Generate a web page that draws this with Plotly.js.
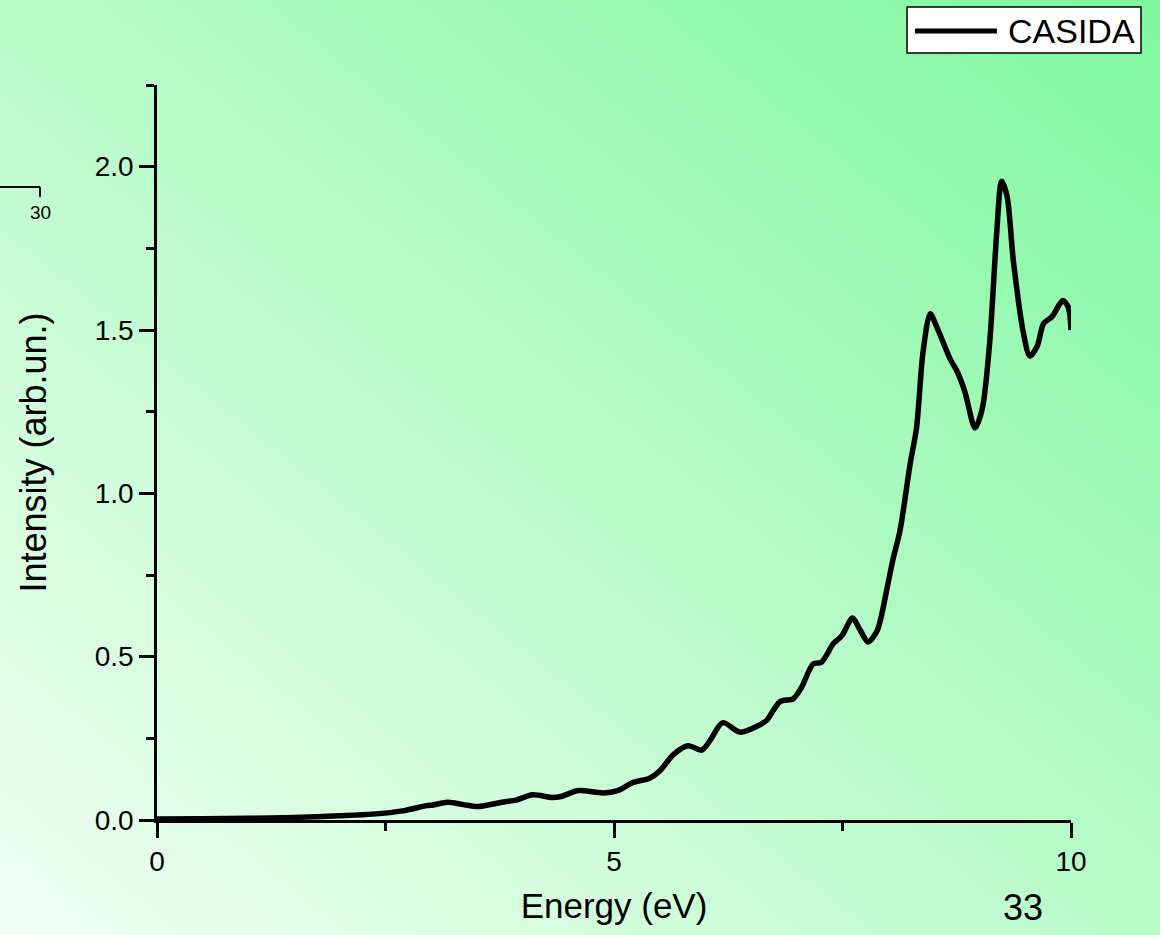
<!DOCTYPE html>
<html>
<head>
<meta charset="utf-8">
<script src="https://cdn.plot.ly/plotly-3.0.1.min.js"></script>
<style>
html, body { margin: 0; padding: 0; }
#chart { width: 1160px; height: 935px; background: linear-gradient(to top right, #f2fff4, #7ef79e); }
</style>
</head>
<body>
<div id="chart"></div>
<script>
// Data
const energy = [0, 0.5, 1.0, 1.5, 2.0, 2.36, 2.69, 2.95, 3.02, 3.18, 3.35, 3.51, 3.79, 3.93, 4.11, 4.32, 4.42, 4.61, 4.88, 5.04, 5.21, 5.39, 5.50, 5.65, 5.81, 5.96, 6.05, 6.19, 6.38, 6.60, 6.67, 6.82, 6.96, 7.05, 7.18, 7.27, 7.40, 7.49, 7.61, 7.69, 7.78, 7.88, 7.99, 8.05, 8.13, 8.24, 8.31, 8.38, 8.46, 8.53, 8.68, 8.76, 8.84, 8.95, 9.03, 9.11, 9.19, 9.24, 9.30, 9.37, 9.48, 9.55, 9.63, 9.70, 9.79, 9.91, 9.97, 10.0];
const intensity = [0.003, 0.004, 0.005, 0.008, 0.013, 0.018, 0.028, 0.044, 0.046, 0.054, 0.047, 0.041, 0.055, 0.061, 0.077, 0.069, 0.072, 0.090, 0.083, 0.090, 0.115, 0.128, 0.150, 0.200, 0.227, 0.214, 0.243, 0.298, 0.269, 0.292, 0.305, 0.363, 0.371, 0.405, 0.478, 0.483, 0.540, 0.563, 0.618, 0.583, 0.545, 0.580, 0.713, 0.795, 0.887, 1.09, 1.20, 1.43, 1.55, 1.51, 1.41, 1.37, 1.31, 1.20, 1.26, 1.46, 1.81, 1.955, 1.91, 1.71, 1.49, 1.42, 1.45, 1.52, 1.54, 1.59, 1.57, 1.50];
const seriesName = "CASIDA";
const xTickVals = [0, 5, 10];
const xTickText = ["0", "5", "10"];
const yTickVals = [0, 0.5, 1.0, 1.5, 2.0];
const yTickText = ["0.0", "0.5", "1.0", "1.5", "2.0"];

const FONT = "Liberation Sans, Arial, sans-serif";

const trace = {
  x: energy,
  y: intensity,
  type: "scatter",
  mode: "lines",
  name: seriesName,
  line: { color: "#000000", width: 5.5, shape: "spline", smoothing: 0.8 },
  showlegend: false,
  hoverinfo: "x+y"
};

const layout = {
  width: 1160,
  height: 935,
  paper_bgcolor: "rgba(0,0,0,0)",
  plot_bgcolor: "rgba(0,0,0,0)",
  margin: { l: 157, r: 89, t: 85, b: 115 },
  font: { family: FONT, color: "#000000" },
  showlegend: false,
  xaxis: {
    range: [0, 10],
    showgrid: false,
    zeroline: false,
    showline: true,
    linecolor: "#000000",
    linewidth: 2.5,
    ticks: "outside",
    ticklen: 15,
    tickwidth: 2.5,
    tickcolor: "#000000",
    tickvals: xTickVals,
    ticktext: xTickText,
    tickfont: { family: FONT, size: 28, color: "#000000" },
    minor: { dtick: 2.5, tick0: 0, ticks: "outside", ticklen: 8, tickwidth: 2.5, tickcolor: "#000000", showgrid: false },
    title: { text: "Energy (eV)", font: { family: FONT, size: 35, color: "#000000" }, standoff: 18 },
    automargin: false
  },
  yaxis: {
    range: [0, 2.25],
    showgrid: false,
    zeroline: false,
    showline: true,
    linecolor: "#000000",
    linewidth: 2.5,
    ticks: "outside",
    ticklen: 15,
    tickwidth: 2.5,
    tickcolor: "#000000",
    tickvals: yTickVals,
    ticktext: yTickText,
    tickfont: { family: FONT, size: 28, color: "#000000" },
    minor: { dtick: 0.25, tick0: 0, ticks: "outside", ticklen: 8, tickwidth: 2.5, tickcolor: "#000000", showgrid: false },
    title: { text: "Intensity (arb.un.)", font: { family: FONT, size: 36, color: "#000000" }, standoff: 38 },
    automargin: false
  },
  shapes: [
    // legend box
    { type: "rect", xref: "paper", yref: "paper", x0: 0.8206, x1: 1.0766, y0: 1.0435, y1: 1.1061,
      fillcolor: "#ffffff", line: { color: "#000000", width: 1.5 }, layer: "above" },
    // legend sample line
    { type: "line", xref: "paper", yref: "paper", x0: 0.8293, x1: 0.919, y0: 1.0735, y1: 1.0735,
      line: { color: "#000000", width: 5 }, layer: "above" },
    // stray bracket on the left
    { type: "line", xref: "paper", yref: "paper", x0: -0.1718, x1: -0.128, y0: 0.8612, y1: 0.8612,
      line: { color: "#000000", width: 2 } },
    { type: "line", xref: "paper", yref: "paper", x0: -0.128, x1: -0.128, y0: 0.8612, y1: 0.8476,
      line: { color: "#000000", width: 2 } }
  ],
  annotations: [
    { text: seriesName, xref: "paper", yref: "paper", x: 0.9289, y: 1.0735, xanchor: "left", yanchor: "middle",
      showarrow: false, font: { family: FONT, size: 34, color: "#000000" } },
    { text: "30", xref: "paper", yref: "paper", x: -0.128, y: 0.8259, xanchor: "center", yanchor: "middle",
      showarrow: false, font: { family: FONT, size: 19, color: "#000000" } },
    { text: "33", xref: "paper", yref: "paper", x: 0.9475, y: -0.1197, xanchor: "center", yanchor: "middle",
      showarrow: false, font: { family: FONT, size: 36, color: "#000000" } }
  ]
};

Plotly.newPlot("chart", [trace], layout, { displayModeBar: false, staticPlot: false });
</script>
</body>
</html>
